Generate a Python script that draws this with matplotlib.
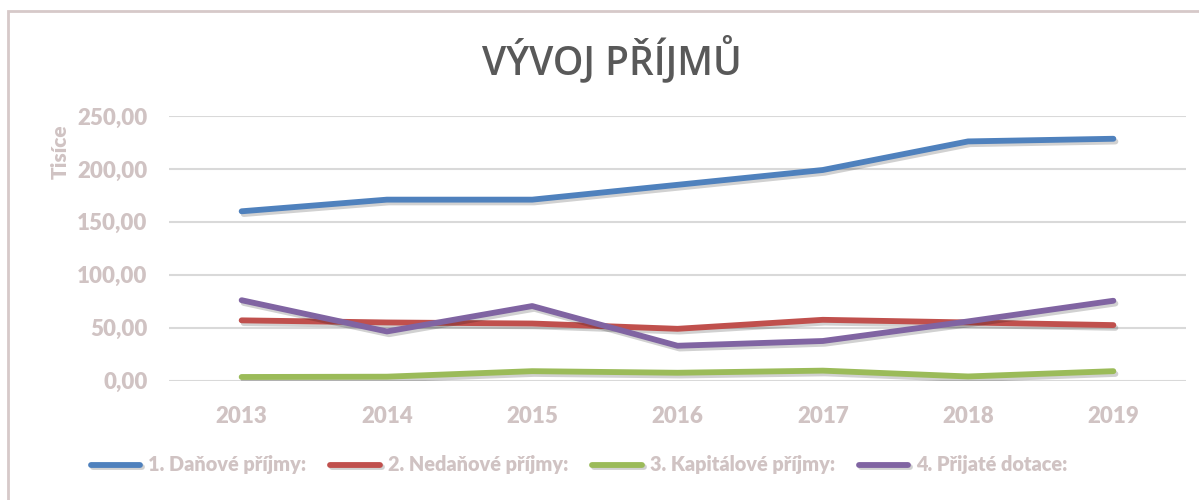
import matplotlib.pyplot as plt
import matplotlib.patheffects as pe
from matplotlib.patches import Rectangle

years = ["2013", "2014", "2015", "2016", "2017", "2018", "2019"]
danove = [160, 171, 171, 185, 199, 226, 228.5]
nedanove = [57, 55, 54, 49, 57.5, 55, 52.5]
kapitalove = [3.5, 3.8, 9, 7.5, 9.5, 4, 9]
dotace = [76, 46.5, 70.5, 33, 37.5, 56, 75.5]

labels = ["1. Daňové příjmy:", "2. Nedaňové příjmy:", "3. Kapitálové příjmy:", "4. Přijaté dotace:"]
colors = ["#4f81bd", "#c0504d", "#9bbb59", "#8064a2"]

txt_col = "#d0c3c3"
plt.rcParams['font.family'] = 'Lato'
plt.rcParams['font.weight'] = 'heavy'
plt.rcParams['axes.labelweight'] = 'heavy'

fig = plt.figure(figsize=(11.99, 5), dpi=100)
fig.patches.append(Rectangle((8 / 1199, -0.1), 1.2, 1 - 11 / 500 + 0.1, transform=fig.transFigure,
                             fill=False, edgecolor="#d6c9c9", lw=2))

ax = fig.add_axes([169 / 1199, 1 - 380.7 / 500, (1186 - 169) / 1199, (380.7 - 116) / 500])
x = list(range(len(years)))
shadow = [pe.SimpleLineShadow(offset=(1.5, -2), shadow_color="#000000", alpha=0.18), pe.Normal()]
for vals, lab, c in zip([danove, nedanove, kapitalove, dotace], labels, colors):
    ax.plot(x, vals, color=c, lw=4.2, solid_capstyle="round", solid_joinstyle="round",
            label=lab, path_effects=shadow, zorder=3)

ax.set_xlim(-0.5, 6.5)
ax.set_ylim(0, 250)
ax.set_yticks([0, 50, 100, 150, 200, 250])
ax.set_yticklabels(["0,00", "50,00", "100,00", "150,00", "200,00", "250,00"])
ax.set_xticks(x)
ax.set_xticklabels(years)
ax.grid(axis="y", color="#d9d9d9", lw=1.5)
ax.set_axisbelow(True)
for s in ax.spines.values():
    s.set_visible(False)
ax.tick_params(length=0, labelsize=16, labelcolor=txt_col)
ax.tick_params(axis="y", pad=15.5)
ax.tick_params(axis="x", pad=18)
ax.set_ylabel("Tisíce", fontsize=15, color=txt_col)
ax.yaxis.set_label_coords(-0.098, 0.864)

fig.text(0.51, 0.88, "VÝVOJ PŘÍJMŮ", ha="center", va="center", fontsize=28,
         color="#595959", family="Open Sans", weight="semibold")

leg = fig.legend(loc="center", bbox_to_anchor=(0.483, 1 - 465 / 500), ncol=4, frameon=False,
                 fontsize=14.3, handlelength=2.5, handletextpad=0.4, columnspacing=1.2)
for t in leg.get_texts():
    t.set_color(txt_col)

fig.savefig("out.png", dpi=100)
